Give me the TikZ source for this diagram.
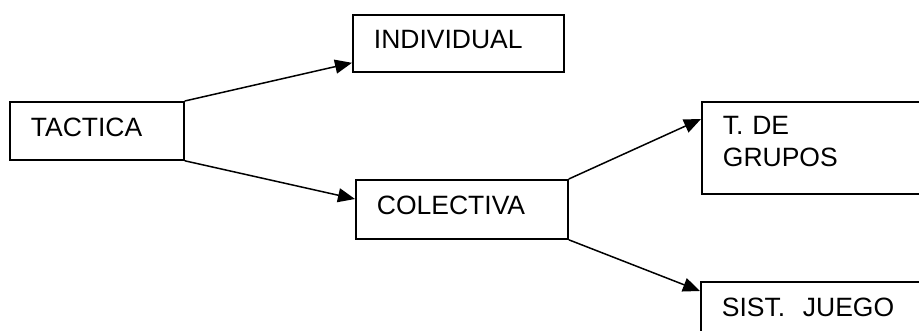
\documentclass[tikz,border=0pt]{standalone}
\usepackage{fontspec}
\setmainfont{Liberation Sans}
\usetikzlibrary{arrows.meta}

\tikzset{
  box/.style={draw, line width=1.8pt, anchor=north west, align=left,
    inner xsep=21pt, inner ysep=0pt,
    text height=19pt, text depth=8pt,
    font=\fontsize{26.5}{31.5}\selectfont},
  arr/.style={line width=1.5pt, -{Triangle[length=17pt,width=14pt]}}
}

\begin{document}
\begin{tikzpicture}[x=1pt,y=-1pt]
  \useasboundingbox (0,0) rectangle (919,331);
  \clip (0,0) rectangle (919,331);

  % boxes
  \node[box, text width=132pt, minimum width=174pt, minimum height=58pt] (tac) at (9,101) {TACTICA};
  \node[box, text width=169pt, minimum width=211pt, minimum height=57pt] (ind) at (352,14) {INDIVIDUAL};
  \node[box, text width=170pt, minimum width=212pt, minimum height=59pt] (col) at (355,179) {COLECTIVA};
  \node[box, text width=198pt, minimum width=240pt, minimum height=92pt, text depth=45pt] (grp) at (701,101) {T. DE\\GRUPOS};
  \node[box, text width=198pt, minimum width=240pt, minimum height=58pt] (sis) at (700,281) {SIST.\ \ JUEGO};

  % connectors
  \draw[arr] (tac.north east) -- ([yshift=10pt]ind.south west);
  \draw[arr] (tac.south east) -- ([yshift=-20pt]col.north west);
  \draw[arr] (col.north east) -- ([yshift=-18pt]grp.north west);
  \draw[arr] (col.south east) -- ([yshift=-10pt]sis.north west);
\end{tikzpicture}
\end{document}
